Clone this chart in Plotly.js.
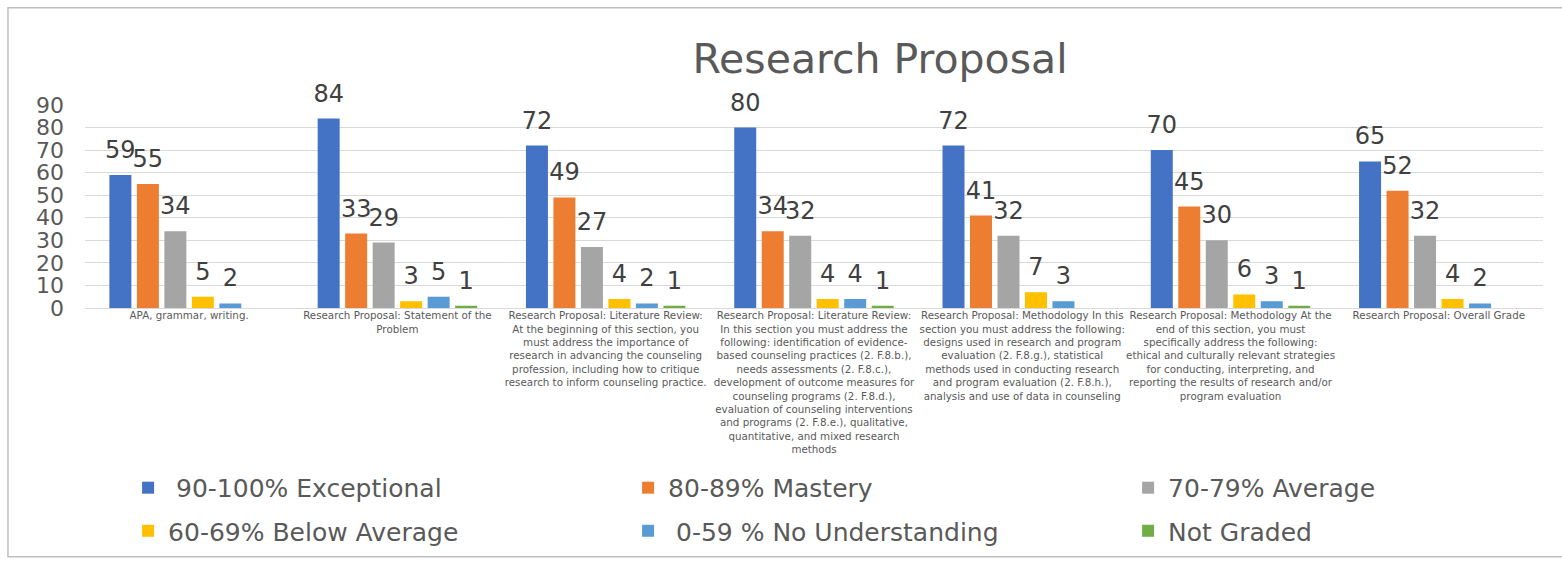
<!DOCTYPE html>
<html>
<head>
<meta charset="utf-8">
<script src="https://cdn.plot.ly/plotly-3.0.1.min.js"></script>
<style>
  html, body { margin: 0; padding: 0; background: #ffffff; }
  #chart { width: 1562px; height: 567px; }
</style>
</head>
<body>
<div id="chart"></div>
<script>
// Assignment criteria (x categories)
const categories = [
  'APA, grammar, writing.',
  'Research Proposal: Statement of the<br>Problem',
  'Research Proposal: Literature Review:<br>At the beginning of this section, you<br>must address the importance of<br>research in advancing the counseling<br>profession, including how to critique<br>research to inform counseling practice.',
  'Research Proposal: Literature Review:<br>In this section you must address the<br>following: identification of evidence-<br>based counseling practices (2. F.8.b.),<br>needs assessments (2. F.8.c.),<br>development of outcome measures for<br>counseling programs (2. F.8.d.),<br>evaluation of counseling interventions<br>and programs (2. F.8.e.), qualitative,<br>quantitative, and mixed research<br>methods',
  'Research Proposal: Methodology In this<br>section you must address the following:<br>designs used in research and program<br>evaluation (2. F.8.g.), statistical<br>methods used in conducting research<br>and program evaluation (2. F.8.h.),<br>analysis and use of data in counseling',
  'Research Proposal: Methodology At the<br>end of this section, you must<br>specifically address the following:<br>ethical and culturally relevant strategies<br>for conducting, interpreting, and<br>reporting the results of research and/or<br>program evaluation',
  'Research Proposal: Overall Grade'
];

// Grade bands
const seriesNames = [
  '\u00a090-100% Exceptional',
  '80-89% Mastery',
  '70-79% Average',
  '60-69% Below Average',
  '\u00a00-59 % No Understanding',
  'Not Graded'
];

// Student counts per band
const exceptional     = [59, 84, 72, 80, 72, 70, 65];
const mastery         = [55, 33, 49, 34, 41, 45, 52];
const average         = [34, 29, 27, 32, 32, 30, 32];
const belowAverage    = [5, 3, 4, 4, 7, 6, 4];
const noUnderstanding = [2, 5, 2, 4, 3, 3, 2];
const notGraded       = [null, 1, 1, 1, null, 1, null];

const yTickValues = [0, 10, 20, 30, 40, 50, 60, 70, 80, 90];

const seriesColors = ['#4472C4', '#ED7D31', '#A5A5A5', '#FFC000', '#5B9BD5', '#70AD47'];
const seriesValues = [exceptional, mastery, average, belowAverage, noUnderstanding, notGraded];

const FONT = 'DejaVu Sans, Liberation Sans, Arial, sans-serif';

// Bars; the first three bands go in the upper legend row, the rest in the lower one
const barTraces = seriesValues.map((vals, i) => ({
  type: 'bar',
  name: seriesNames[i],
  legend: i < 3 ? 'legend' : 'legend2',
  x: categories,
  y: vals,
  marker: { color: seriesColors[i] },
  hoverinfo: 'y+name'
}));

// Value labels, grouped the same way as the bars
const labelTraces = seriesValues.map((vals, i) => ({
  type: 'scatter',
  mode: 'markers+text',
  x: categories,
  y: vals,
  text: vals.map(v => (v == null ? '' : String(v))),
  textposition: 'top center',
  textfont: { family: FONT, size: 24, color: '#404040' },
  marker: { size: 16, opacity: 0, color: seriesColors[i] },
  cliponaxis: false,
  showlegend: false,
  hoverinfo: 'skip'
}));

const legendStyle = (yTop) => ({
  orientation: 'h',
  xref: 'container', yref: 'container',
  x: 0.082, xanchor: 'left',
  y: yTop, yanchor: 'top',
  entrywidth: 455,
  entrywidthmode: 'pixels',
  traceorder: 'normal',
  font: { family: FONT, size: 25, color: '#595959' },
  bgcolor: 'rgba(0,0,0,0)'
});

const layout = {
  width: 1562,
  height: 567,
  paper_bgcolor: '#ffffff',
  plot_bgcolor: '#ffffff',
  font: { family: FONT, color: '#595959' },
  margin: { l: 0, r: 0, t: 105, b: 259, pad: 0 },
  barmode: 'group',
  bargap: 0.208,
  bargroupgap: 0.2,
  scattermode: 'group',
  scattergap: 0.208,
  title: {
    text: 'Research Proposal',
    font: { family: FONT, size: 41, color: '#595959' },
    xref: 'container', yref: 'container',
    x: 0.5634, xanchor: 'center',
    y: 0.897, yanchor: 'middle'
  },
  xaxis: {
    type: 'category',
    domain: [0.0544, 0.9878],
    showgrid: false,
    showline: false,
    zeroline: false,
    ticks: '',
    tickangle: 0,
    automargin: false,
    tickfont: { family: FONT, size: 10.3, color: '#595959' }
  },
  yaxis: {
    range: [0, 90],
    tickvals: yTickValues,
    ticktext: yTickValues.map(String),
    showgrid: true,
    gridcolor: '#D9D9D9',
    gridwidth: 1,
    zeroline: true,
    zerolinecolor: '#D9D9D9',
    zerolinewidth: 1,
    showline: false,
    ticks: '',
    ticklabelstandoff: 20,
    automargin: false,
    fixedrange: true,
    tickfont: { family: FONT, size: 22, color: '#595959' }
  },
  legend: legendStyle(0.18),
  legend2: legendStyle(0.104),
  shapes: [{
    type: 'rect',
    xref: 'paper', yref: 'paper',
    x0: 0.0051, x1: 1.01,
    y0: -1.225, y1: 1.4786,
    line: { color: '#BFBFBF', width: 1.5 },
    fillcolor: 'rgba(0,0,0,0)',
    layer: 'below'
  }],
  showlegend: true
};

Plotly.newPlot('chart', barTraces.concat(labelTraces), layout, { displayModeBar: false, staticPlot: true });
</script>
</body>
</html>
